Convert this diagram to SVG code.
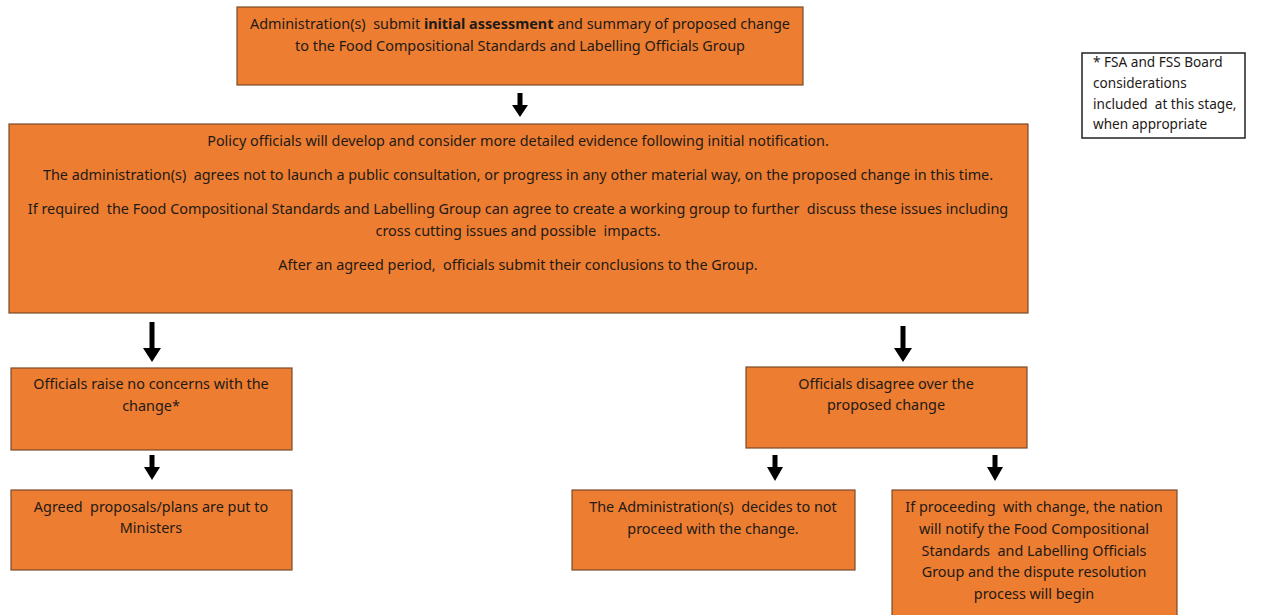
<svg xmlns="http://www.w3.org/2000/svg" width="1262" height="615" viewBox="0 0 1262 615">
<style>
.box{fill:#ED7D31;stroke:#7a4a2a;stroke-width:1.2}
.note{fill:#fff;stroke:#222;stroke-width:1.5}
text{font-family:"Noto Sans","Open Sans",sans-serif;font-size:14.4px;fill:#1e1a16;white-space:pre}
.nt{font-size:13.6px}
.c{text-anchor:middle}
.arr{fill:#000}
</style>
<rect width="1262" height="615" fill="#fff"/>
<g id="n1">
<rect class="box" x="237" y="7" width="566" height="78"/>
<text class="c" x="520" y="29">Administration(s)  submit <tspan font-weight="bold">initial assessment</tspan> and summary of proposed change</text>
<text class="c" x="520" y="51">to the Food Compositional Standards and Labelling Officials Group</text>
</g>
<g id="note">
<rect class="note" x="1082" y="53" width="163" height="85"/>
<text class="nt" x="1093" y="67">* FSA and FSS Board</text>
<text class="nt" x="1093" y="88">considerations</text>
<text class="nt" x="1093" y="109">included  at this stage,</text>
<text class="nt" x="1093" y="129">when appropriate</text>
</g>
<g id="n2">
<rect class="box" x="9" y="124" width="1019" height="189"/>
<text class="c" x="518" y="146">Policy officials will develop and consider more detailed evidence following initial notification.</text>
<text class="c" x="518" y="180">The administration(s)  agrees not to launch a public consultation, or progress in any other material way, on the proposed change in this time.</text>
<text class="c" x="518" y="214">If required  the Food Compositional Standards and Labelling Group can agree to create a working group to further  discuss these issues including</text>
<text class="c" x="518" y="236">cross cutting issues and possible  impacts.</text>
<text class="c" x="518" y="270">After an agreed period,  officials submit their conclusions to the Group.</text>
</g>
<g id="n3">
<rect class="box" x="11" y="368" width="281" height="82"/>
<text class="c" x="151" y="389">Officials raise no concerns with the</text>
<text class="c" x="151" y="411">change*</text>
</g>
<g id="n4">
<rect class="box" x="11" y="490" width="281" height="80"/>
<text class="c" x="151" y="512">Agreed  proposals/plans are put to</text>
<text class="c" x="151" y="533">Ministers</text>
</g>
<g id="n5">
<rect class="box" x="746" y="367" width="281" height="81"/>
<text class="c" x="886" y="389">Officials disagree over the</text>
<text class="c" x="886" y="410">proposed change</text>
</g>
<g id="n6">
<rect class="box" x="572" y="490" width="283" height="80"/>
<text class="c" x="713" y="512">The Administration(s)  decides to not</text>
<text class="c" x="713" y="534">proceed with the change.</text>
</g>
<g id="n7">
<rect class="box" x="892" y="490" width="285" height="130"/>
<text class="c" x="1034" y="512">If proceeding  with change, the nation</text>
<text class="c" x="1034" y="534">will notify the Food Compositional</text>
<text class="c" x="1034" y="556">Standards  and Labelling Officials</text>
<text class="c" x="1034" y="577">Group and the dispute resolution</text>
<text class="c" x="1034" y="599">process will begin</text>
</g>
<g id="connectors">
<path class="arr" d="M517.5,93 H522.5 V105 H528 L520,117 L512,105 H517.5 Z"/>
<path class="arr" d="M149.5,322 H154.5 V348 H161 L152,362 L143,348 H149.5 Z"/>
<path class="arr" d="M149.5,455 H154.5 V467 H160 L152,480 L144,467 H149.5 Z"/>
<path class="arr" d="M900.5,326 H905.5 V348 H912 L903,362 L894,348 H900.5 Z"/>
<path class="arr" d="M772.5,455 H777.5 V467 H783 L775,481 L767,467 H772.5 Z"/>
<path class="arr" d="M992.5,455 H997.5 V467 H1003 L995,481 L987,467 H992.5 Z"/>
</g>
</svg>
